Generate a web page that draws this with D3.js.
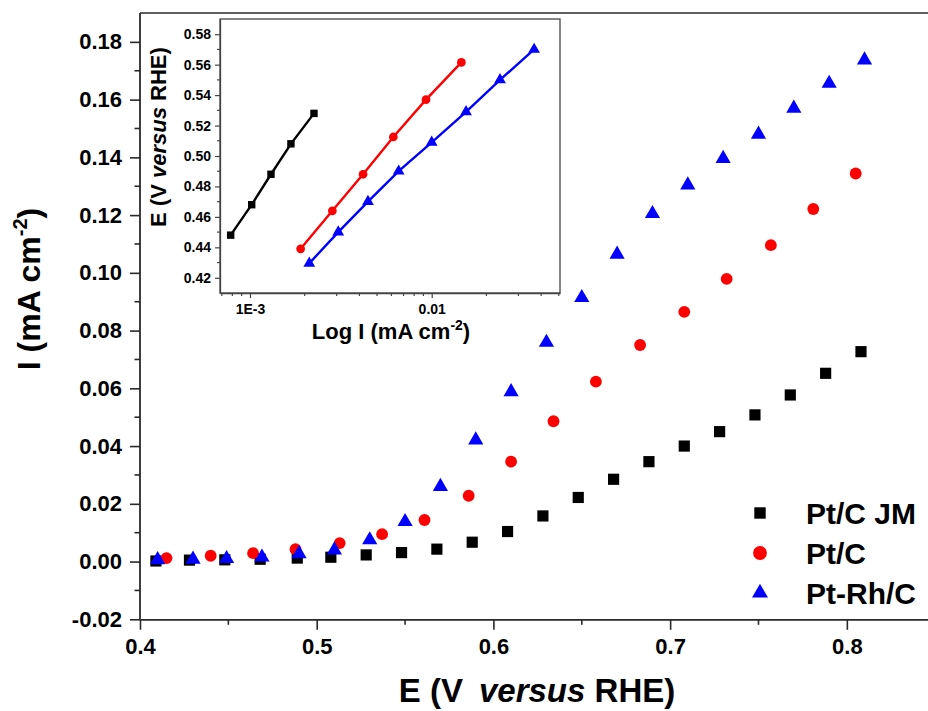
<!DOCTYPE html>
<html><head><meta charset="utf-8">
<script src="https://cdn.jsdelivr.net/npm/d3@7"></script>
<style>
body{margin:0;background:#fff;}
svg{display:block;font-family:"Liberation Sans",Arial,sans-serif;font-weight:bold;}
</style></head>
<body><svg id="c" width="928" height="711"></svg>
<script>
// ---- main plot data ----
const jmE = [0.409,0.428,0.448,0.468,0.489,0.508,0.528,0.548,0.568,0.588,0.608,0.628,0.648,0.668,0.688,0.708,0.728,0.748,0.768,0.788,0.808];
const jmI = [0.0002,0.0005,0.0006,0.0008,0.0012,0.0015,0.0023,0.0031,0.0043,0.0067,0.0104,0.0158,0.0222,0.0285,0.0346,0.0400,0.0450,0.0508,0.0577,0.0652,0.0727];
const ptE = [0.415,0.440,0.464,0.488,0.513,0.537,0.561,0.586,0.610,0.634,0.658,0.683,0.708,0.732,0.757,0.781,0.805];
const ptI = [0.0012,0.0020,0.0029,0.0043,0.0064,0.0095,0.0144,0.0228,0.0346,0.0486,0.0623,0.0750,0.0865,0.0979,0.1096,0.1221,0.1344];
const rhE = [0.410,0.430,0.449,0.469,0.490,0.510,0.530,0.550,0.570,0.590,0.610,0.630,0.650,0.670,0.690,0.710,0.730,0.750,0.770,0.790,0.810];
const rhI = [0.0006,0.0008,0.0010,0.0015,0.0027,0.0040,0.0075,0.0138,0.0260,0.0421,0.0588,0.0759,0.0914,0.1064,0.1205,0.1304,0.1396,0.1480,0.1570,0.1656,0.1737];
const xTicks = [0.4,0.5,0.6,0.7,0.8];
const yTicks = [-0.02,0.00,0.02,0.04,0.06,0.08,0.10,0.12,0.14,0.16,0.18];
const legendNames = ["Pt/C JM","Pt/C","Pt-Rh/C"];
// ---- inset (Tafel) data ----
const insJmI = [7.83e-4,1.022e-3,1.305e-3,1.68e-3,2.25e-3];
const insJmE = [0.448,0.468,0.488,0.508,0.528];
const insPtI = [1.90e-3,2.84e-3,4.19e-3,6.15e-3,9.30e-3,1.456e-2];
const insPtE = [0.439,0.464,0.488,0.5125,0.537,0.5615];
const insRhI = [2.12e-3,3.06e-3,4.46e-3,6.58e-3,1.00e-2,1.545e-2,2.376e-2,3.66e-2];
const insRhE = [0.4295,0.450,0.470,0.490,0.509,0.529,0.550,0.570];
const insYTicks = [0.42,0.44,0.46,0.48,0.50,0.52,0.54,0.56,0.58];
const insXTicks = [0.001,0.01];
const insXLabels = ["1E-3","0.01"];

const colors = ["#000000","#ff0000","#0000ff"];
const svg = d3.select("#c");
const fmt2 = v => d3.format(".2f")(v).replace("\u2212","-");
const fmt1 = v => d3.format(".1f")(v).replace("\u2212","-");

// ---- main scales ----
const x = d3.scaleLinear().domain([0.4,0.85]).range([140,935.2]);
const y = d3.scaleLinear().domain([-0.02,0.19]).range([619.3,13]);
const axisCol = "#2a2a2a";

// top border
svg.append("line").attr("x1",140).attr("x2",928).attr("y1",y(0.19)).attr("y2",y(0.19))
  .attr("stroke",axisCol).attr("stroke-width",1.6);

// x axis
const xMinor = d3.range(0.45,0.86,0.1);
const gx = svg.append("g").attr("transform",`translate(0,${y(-0.02)})`);
gx.call(d3.axisBottom(x).tickValues(xTicks).tickFormat(fmt1).tickSize(10.5).tickPadding(9).tickSizeOuter(0));
gx.selectAll("line.mn").data(xMinor).enter().append("line").attr("class","mn")
  .attr("x1",d=>x(d)).attr("x2",d=>x(d)).attr("y1",0).attr("y2",5.5).attr("stroke",axisCol).attr("stroke-width",1.6);
// y axis
const yMinor = d3.range(-0.01,0.19,0.02);
const gy = svg.append("g").attr("transform",`translate(${x(0.4)},0)`);
gy.call(d3.axisLeft(y).tickValues(yTicks).tickFormat(fmt2).tickSize(10).tickPadding(8).tickSizeOuter(0));
gy.selectAll("line.mn").data(yMinor).enter().append("line").attr("class","mn")
  .attr("x1",0).attr("x2",-5.5).attr("y1",d=>y(d)).attr("y2",d=>y(d)).attr("stroke",axisCol).attr("stroke-width",1.6);
[gx,gy].forEach(g=>{
  g.selectAll("path.domain").attr("stroke",axisCol).attr("stroke-width",1.8);
  g.selectAll(".tick line").attr("stroke",axisCol).attr("stroke-width",1.6);
  g.selectAll(".tick text").attr("font-size",22).attr("font-family","Liberation Sans, Arial, sans-serif").attr("font-weight","bold").attr("fill","#000");
});
gy.select("path.domain").attr("d",`M0,${y(-0.02)}V${y(0.19)}`);

// axis titles
const xt = svg.append("text").attr("x",537).attr("y",702).attr("text-anchor","middle").attr("font-size",33).attr("fill","#000");
xt.append("tspan").text("E (V");
xt.append("tspan").attr("dx",16).attr("font-style","italic").text("versus");
xt.append("tspan").text(" RHE)");
const yt = svg.append("text").attr("transform","translate(40,289) rotate(-90)").attr("text-anchor","middle").attr("font-size",32).attr("fill","#000");
yt.append("tspan").text("I (mA cm");
yt.append("tspan").attr("dy",-13).attr("font-size",20).text("-2");
yt.append("tspan").attr("dy",13).text(")");

// markers
const sym = [d3.symbolSquare,d3.symbolCircle,d3.symbolTriangle];
function drawSeries(g,xs,ys,xScale,yScale,si,size){
  g.selectAll(null).data(xs.map((v,i)=>[v,ys[i]])).enter().append("path")
    .attr("d",d3.symbol().type(sym[si]).size(size))
    .attr("transform",d=>`translate(${xScale(d[0])},${yScale(d[1])})`)
    .attr("fill",colors[si]);
}
const mainSizes = [125,110,100];
const gm = svg.append("g");
drawSeries(gm,jmE,jmI,x,y,0,mainSizes[0]);
drawSeries(gm,ptE,ptI,x,y,1,mainSizes[1]);
drawSeries(gm,rhE,rhI,x,y,2,mainSizes[2]);

// legend
const legY = [513,553,593];
const legSizes = [130,150,110];
legendNames.forEach((n,i)=>{
  svg.append("path").attr("d",d3.symbol().type(sym[i]).size(legSizes[i])())
    .attr("transform",`translate(760,${legY[i]})`).attr("fill",colors[i]);
  svg.append("text").attr("x",806).attr("y",legY[i]+11).attr("font-size",30).attr("fill","#000").text(n);
});

// ---- inset ----
const ix = d3.scaleLog().domain([6.84e-4,0.0508]).range([220,560]);
const iy = d3.scaleLinear().domain([0.41,0.59]).range([293,19]);
const inCol = "#444";
const gi = svg.append("g");
gi.append("rect").attr("x",220).attr("y",19).attr("width",340).attr("height",274).attr("fill","#fff").attr("stroke",inCol).attr("stroke-width",1.3);
const ixMinor = [];
[1e-4,1e-3,1e-2].forEach(dec=>{for(let k=2;k<=9;k++){const v=dec*k; if(v>=6.84e-4&&v<=0.0508) ixMinor.push(v);}});
const gix = gi.append("g").attr("transform","translate(0,293)");
gix.call(d3.axisBottom(ix).tickValues(insXTicks).tickFormat((d,i)=>insXLabels[i]).tickSize(5).tickPadding(6).tickSizeOuter(0));
gix.selectAll("line.mn").data(ixMinor).enter().append("line").attr("class","mn")
  .attr("x1",d=>ix(d)).attr("x2",d=>ix(d)).attr("y1",0).attr("y2",3).attr("stroke",inCol).attr("stroke-width",1.2);
const iyMinor = d3.range(0.43,0.59,0.02);
const giy = gi.append("g").attr("transform","translate(220,0)");
giy.call(d3.axisLeft(iy).tickValues(insYTicks).tickFormat(fmt2).tickSize(5).tickPadding(4).tickSizeOuter(0));
giy.selectAll("line.mn").data(iyMinor).enter().append("line").attr("class","mn")
  .attr("x1",0).attr("x2",-3).attr("y1",d=>iy(d)).attr("y2",d=>iy(d)).attr("stroke",inCol).attr("stroke-width",1.2);
[gix,giy].forEach(g=>{
  g.selectAll("path.domain").attr("stroke",inCol).attr("stroke-width",1.3);
  g.selectAll(".tick line").attr("stroke",inCol).attr("stroke-width",1.2);
  g.selectAll(".tick text").attr("font-size",14).attr("font-family","Liberation Sans, Arial, sans-serif").attr("font-weight","bold").attr("fill","#000");
});
// inset titles
const ixt = gi.append("text").attr("x",391).attr("y",339).attr("text-anchor","middle").attr("font-size",22).attr("fill","#000");
ixt.append("tspan").text("Log I (mA cm");
ixt.append("tspan").attr("dy",-9).attr("font-size",14).text("-2");
ixt.append("tspan").attr("dy",9).text(")");
const iyt = gi.append("text").attr("transform","translate(166,137) rotate(-90)").attr("text-anchor","middle").attr("font-size",22).attr("fill","#000");
iyt.append("tspan").text("E (V ");
iyt.append("tspan").attr("font-style","italic").text("versus");
iyt.append("tspan").text(" RHE)");
// inset lines + markers
const line = d3.line().x(d=>ix(d[0])).y(d=>iy(d[1]));
const insSets = [[insJmI,insJmE],[insPtI,insPtE],[insRhI,insRhE]];
const insSizes = [55,60,60];
insSets.forEach((s,i)=>{
  const pts = s[0].map((v,j)=>[v,s[1][j]]);
  gi.append("path").attr("d",line(pts)).attr("fill","none").attr("stroke",colors[i]).attr("stroke-width",2.4);
  drawSeries(gi,s[0],s[1],ix,iy,i,insSizes[i]);
});
</script></body></html>
